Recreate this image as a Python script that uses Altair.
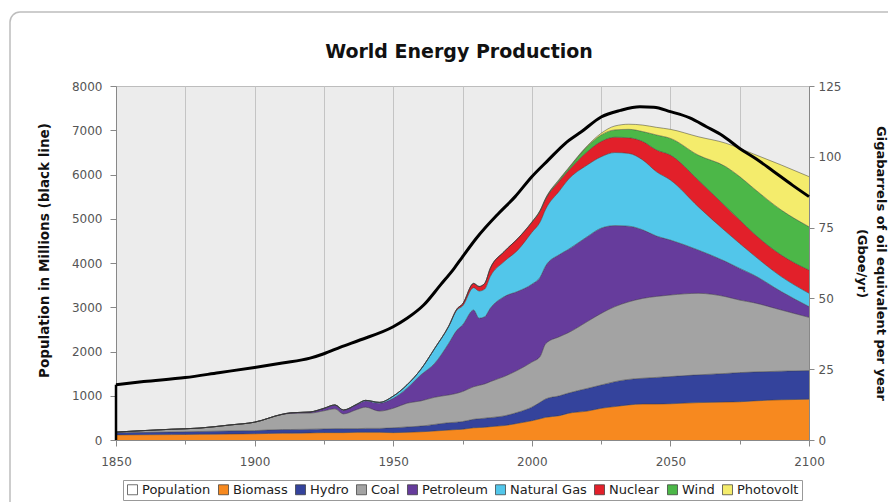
import altair as alt
import pandas as pd

chart_title = "World Energy Production"

years = [1850, 1870, 1880, 1891, 1900, 1910, 1913, 1920, 1925, 1929, 1932, 1937, 1940, 1945,
         1950, 1955, 1960, 1965, 1970, 1973, 1975, 1979, 1981, 1983, 1985, 1990, 1995, 2000,
         2003, 2005, 2010, 2013, 2020, 2025, 2030, 2035, 2040, 2045, 2050, 2060, 2070, 2075,
         2080, 2090, 2100]

biomass = [1.8, 1.9, 2.0, 2.1, 2.2, 2.4, 2.4, 2.5, 2.6, 2.6, 2.6, 2.7, 2.7, 2.7, 2.6, 2.7, 2.9,
           3.2, 3.5, 3.7, 3.8, 4.3, 4.4, 4.5, 4.7, 5.1, 5.9, 6.8, 7.5, 8.0, 8.6, 9.4, 10.2, 11.2,
           11.8, 12.4, 12.7, 12.7, 12.8, 13.2, 13.4, 13.5, 13.8, 14.2, 14.4]
hydro = [0.8, 0.9, 1.0, 1.1, 1.1, 1.3, 1.3, 1.3, 1.3, 1.4, 1.4, 1.3, 1.4, 1.4, 1.7, 1.9, 2.0,
         2.3, 2.6, 2.6, 2.7, 3.0, 3.1, 3.2, 3.2, 3.4, 3.9, 4.8, 5.8, 6.5, 7.0, 7.1, 8.0, 8.2,
         8.8, 9.0, 9.1, 9.4, 9.6, 9.8, 10.1, 10.3, 10.2, 10.1, 10.1]
coal = [0.2, 1.0, 1.2, 2.1, 3.0, 5.3, 5.7, 5.7, 6.4, 7.0, 5.2, 6.8, 7.5, 6.1, 6.9, 8.4, 8.9,
        9.6, 9.8, 10.2, 10.6, 11.5, 11.8, 12.1, 12.7, 13.9, 14.9, 15.9, 16.2, 19.5, 20.9, 21.3,
        23.6, 25.3, 26.5, 27.4, 28.2, 28.6, 28.8, 28.8, 27.1, 25.6, 24.5, 21.6, 18.8]
petroleum = [0, 0, 0, 0, 0, 0.1, 0.2, 0.4, 0.8, 1.3, 1.3, 1.7, 2.2, 2.8, 3.5, 5.3, 9.2, 12.0,
             18.2, 22.3, 23.5, 27.1, 23.7, 23.7, 25.9, 28.2, 27.8, 27.5, 28.0, 27.5, 29.0, 29.4,
             30.0, 30.1, 28.6, 26.7, 24.2, 21.3, 19.4, 15.3, 12.4, 11.2, 9.8, 6.5, 3.8]
natural_gas = [0, 0, 0, 0, 0, 0, 0, 0, 0.1, 0.1, 0.1, 0.2, 0.2, 0.3, 0.8, 1.2, 2.0, 5.3, 5.9,
               7.1, 6.7, 7.9, 9.6, 9.8, 11.2, 12.4, 14.6, 18.3, 19.5, 20.0, 22.5, 24.6, 25.3,
               25.2, 25.8, 25.7, 24.7, 22.7, 21.2, 15.3, 10.6, 8.8, 7.0, 5.3, 4.7]
nuclear = [0] * 18 + [0.2, 0.4, 0.7, 1.5, 1.6, 2.0, 2.9, 3.5, 4.1, 3.5, 3.8, 3.5, 3.5, 3.1,
                      4.7, 5.4, 5.4, 5.5, 6.5, 7.7, 8.8, 9.4, 8.8, 8.3, 7.7, 7.6, 8.2]
wind = [0] * 27 + [0.1, 0.2, 0.3, 0.5, 0.7, 1.8, 2.3, 2.6, 3.0, 3.5, 5.3, 5.9, 8.8, 14.1,
                   15.3, 15.9, 15.9, 15.3]
photovolt = [0] * 27 + [0.1, 0.1, 0.1, 0.2, 0.2, 0.3, 0.6, 1.4, 1.8, 2.3, 2.7, 3.2, 6.5, 8.3,
                        10.0, 12.1, 15.9, 17.7]

pop_years = [1850, 1860, 1875, 1887, 1900, 1910, 1920, 1925, 1931, 1938, 1950, 1955, 1961,
             1967, 1972, 1975, 1980, 1988, 1994, 2000, 2006, 2012, 2018, 2025, 2032, 2039,
             2044, 2050, 2057, 2063, 2069, 2075, 2081, 2087, 2094, 2100]
population = [1250, 1320, 1410, 1520, 1640, 1740, 1850, 1950, 2100, 2260, 2560, 2750, 3050,
              3500, 3880, 4140, 4560, 5120, 5500, 5950, 6330, 6700, 6970, 7300, 7450, 7530,
              7520, 7420, 7280, 7080, 6870, 6590, 6350, 6080, 5760, 5500]

sources = ["Biomass", "Hydro", "Coal", "Petroleum", "Natural Gas", "Nuclear", "Wind", "Photovolt"]
series = [biomass, hydro, coal, petroleum, natural_gas, nuclear, wind, photovolt]
legend_names = ["Population"] + sources
legend_colors = ["#ffffff", "#f7891f", "#34439c", "#a3a3a3", "#663c9c", "#52c6ea",
                 "#e2202a", "#4cb748", "#f4ec6c"]

rows = []
for k, (name, vals) in enumerate(zip(sources, series)):
    for yr, v in zip(years, vals):
        rows.append({"year": yr, "source": name, "idx": k, "value": v})
energy = pd.DataFrame(rows)
pop = pd.DataFrame({"year": pop_years, "pop": population})
pop_start = pd.DataFrame({"year": [pop_years[0]], "lo": [0], "hi": [population[0]]})

xscale = alt.Scale(domain=[1850, 2100], nice=False, zero=False)
xaxis = alt.Axis(
    values=[1850 + 12.5 * i for i in range(21)],
    format="d",
    labelExpr="datum.value % 50 === 0 ? datum.label : ''",
    gridOpacity={"condition": {"test": "datum.value % 25 === 0", "value": 1}, "value": 0},
    tickSize={"condition": {"test": "datum.value % 50 === 0", "value": 6}, "value": 4},
    title=None, labelFlush=False, labelPadding=10,
)

base = alt.Chart(energy).transform_stack(
    stack="value", groupby=["year"], as_=["y0", "y1"], sort=[alt.SortField("idx")]
)

areas = base.mark_area(interpolate="monotone").encode(
    x=alt.X("year:Q", scale=xscale, axis=xaxis),
    y=alt.Y("y1:Q", scale=alt.Scale(domain=[0, 125], nice=False),
            axis=alt.Axis(orient="right", values=[0, 25, 50, 75, 100, 125], grid=False,
                          title=["Gigabarrels of oil equivalent per year", "(Gboe/yr)"],
                          titlePadding=14, titleLineHeight=19, titleFontSize=13,
                          tickSize=5)),
    y2="y0:Q",
    color=alt.Color("source:N",
                    scale=alt.Scale(domain=legend_names, range=legend_colors),
                    legend=alt.Legend(title=None, orient="none", legendX=7, legendY=394,
                                      direction="horizontal", columns=9, symbolType="square",
                                      symbolSize=100, symbolStrokeColor="#333",
                                      symbolStrokeWidth=0.7, labelFont="DejaVu Sans",
                                      labelFontSize=13, labelColor="#222", columnPadding=6,
                                      padding=3, strokeColor="#999", fillColor="#ffffff",
                                      labelOffset=3)),
)

edges = base.mark_line(interpolate="monotone", stroke="#333333", strokeWidth=0.6,
                       strokeOpacity=0.8).encode(
    x=alt.X("year:Q", scale=xscale),
    y=alt.Y("y1:Q"),
    detail="source:N",
)

popscale = alt.Scale(domain=[0, 8000], nice=False)
popline = alt.Chart(pop).mark_line(color="black", strokeWidth=3, interpolate="monotone").encode(
    x=alt.X("year:Q", scale=xscale),
    y=alt.Y("pop:Q", scale=popscale,
            axis=alt.Axis(orient="left", values=[250 * i for i in range(33)], format="d",
                          labelExpr="datum.value % 1000 === 0 ? datum.label : ''",
                          gridOpacity={"condition": {"test": "datum.value % 1000 === 0",
                                                     "value": 1}, "value": 0},
                          tickSize={"condition": {"test": "datum.value % 1000 === 0",
                                                  "value": 6}, "value": 3},
                          labelPadding=8, titleFontSize=13.5, titleY=164,
                          title="Population in Millions (black line)", titlePadding=20)),
)
popstart = alt.Chart(pop_start).mark_rule(color="black", strokeWidth=2.5).encode(
    x=alt.X("year:Q", scale=xscale),
    y=alt.Y("lo:Q", scale=popscale),
    y2="hi:Q",
)

frame = alt.Chart(pd.DataFrame({"a": [0]})).mark_rect(
    fill=None, stroke="#bdbdbd", strokeWidth=1.5, cornerRadius=10
).encode(x=alt.value(-106), x2=alt.value(820), y=alt.value(-74), y2=alt.value(440))

title_mark = alt.Chart(pd.DataFrame({"t": [chart_title]})).mark_text(
    font="DejaVu Sans", fontSize=19, fontWeight="bold", color="#111",
    align="center", baseline="middle"
).encode(text="t:N", x=alt.value(343), y=alt.value(-34))

chart = alt.layer(
    frame, alt.layer(areas, edges), alt.layer(popline, popstart), title_mark
).resolve_scale(
    y="independent"
).properties(
    width=693, height=354,
    padding={"left": 108, "top": 78, "right": 79, "bottom": 62},
    autosize=alt.AutoSizeParams(type="none"),
).configure(font="DejaVu Sans").configure_view(
    fill="#ececec", stroke="#bdbdbd"
).configure_axis(
    labelFont="DejaVu Sans", labelFontSize=12, labelColor="#555",
    titleFont="DejaVu Sans", titleFontSize=11.5, titleFontWeight="bold", titleColor="#111",
    gridColor="#c4c4c4", gridWidth=1, domainColor="#888", tickColor="#888",
    labelPadding=4,
)

chart.save("out.html", embed_options={"renderer": "svg", "actions": False})
